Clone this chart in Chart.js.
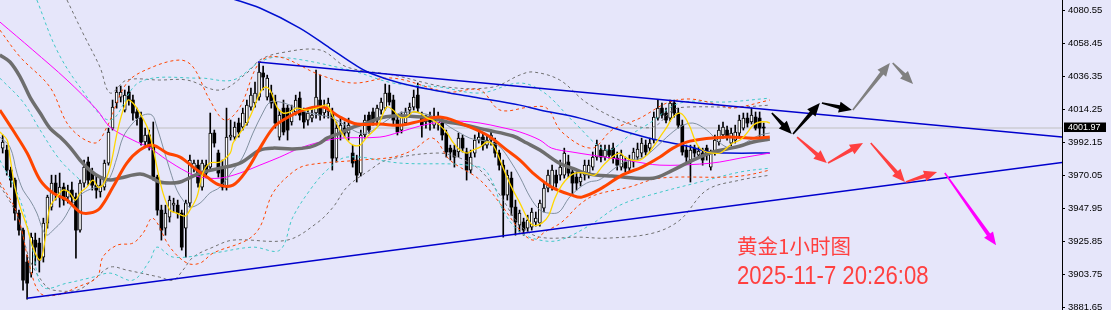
<!DOCTYPE html>
<html lang="zh">
<head>
<meta charset="UTF-8">
<title>黄金1小时图</title>
<style>
    body { margin: 0; padding: 0; background-color: #e6e6fa; }
    .wrap { width: 1111px; height: 310px; position: relative; }
</style>
</head>
<body>
<div class="wrap"><canvas id="goldChart"></canvas></div>

<script src="https://cdn.jsdelivr.net/npm/chart.js"></script>
<script>
    // candles, one per hour, index 0 = leftmost
    const opens = [3988.5,3987.2,3973.8,3967.1,3945.0,3933.6,3912.2,3904.8,3926.9,3924.9,
        3915.5,3938.3,3949.0,3965.1,3955.7,3962.4,3955.7,3960.4,3955.7,3933.6,
        3965.1,3979.2,3972.5,3963.7,3959.1,3962.4,3978.5,4001.9,4018.7,4022.7,
        4014.0,4026.1,4020.7,4012.7,4008.6,3992.6,3997.3,3990.5,3969.1,3947.0,
        3934.9,3942.3,3950.3,3950.3,3945.0,3934.9,3951.7,3975.1,3977.1,3962.4,
        3977.1,3975.8,3998.6,3985.2,3975.8,3962.4,3995.9,3995.9,4005.3,4002.6,
        4005.3,4016.0,4018.7,4022.7,4038.8,4022.7,4025.4,4019.4,3995.9,4015.3,
        4015.3,4006.0,4012.7,4022.0,4012.7,4007.3,4008.6,4012.0,4020.7,4012.0,
        4012.7,4012.0,3981.8,3998.6,4001.9,3998.6,3985.2,3980.5,3971.8,3997.3,
        4010.6,4012.7,4007.3,4014.0,4015.3,4025.4,4020.7,4007.3,4000.6,4005.3,
        4014.0,4016.0,4024.0,4009.3,4006.0,4008.6,4003.9,4005.3,4005.3,3998.6,
        3988.5,3987.2,3985.9,3995.2,3985.9,3973.8,3985.2,3993.9,3995.9,3990.5,
        3993.9,3992.6,3985.2,3977.1,3957.0,3968.4,3949.0,3936.9,3939.0,3934.9,
        3935.6,3939.0,3938.3,3948.3,3961.7,3962.4,3970.4,3970.4,3970.4,3979.2,
        3972.5,3969.1,3965.8,3970.4,3971.8,3975.8,3982.5,3987.2,3982.5,3987.2,
        3988.5,3981.8,3975.8,3979.2,3975.1,3979.2,3982.5,3985.2,3990.5,3988.5,
        3993.9,4008.6,4015.3,4012.0,4008.6,4018.7,4012.0,4003.9,3987.2,3980.5,
        3988.5,3983.8,3985.2,3988.5,3975.8,3985.2,3992.6,3997.3,4000.6,3991.9,
        3993.9,3998.6,4001.9,4008.6,4006.0,4009.3,4008.6,4002.6];
    const highs = [3997.3,3990.5,3975.8,3968.4,3947.0,3934.9,3916.8,3931.6,3931.6,3928.2,
        3941.6,3957.0,3970.4,3970.4,3971.8,3965.1,3963.7,3965.8,3958.4,3967.1,
        3980.5,3982.5,3975.1,3970.4,3968.4,3980.5,4001.9,4020.7,4029.4,4030.1,
        4027.4,4030.1,4024.0,4015.3,4012.7,4001.9,4000.6,4006.0,3970.4,3950.3,
        3950.3,3956.4,3955.0,3953.7,3947.0,3953.7,3983.8,3980.5,3980.5,3980.5,
        3980.5,4012.0,4000.6,3987.2,3980.5,4015.3,4007.3,4006.0,4008.6,4015.3,
        4020.7,4028.7,4032.8,4046.2,4043.5,4037.4,4030.7,4024.0,4014.0,4020.7,
        4017.3,4017.3,4024.0,4026.1,4015.3,4014.0,4015.3,4040.8,4037.4,4020.7,
        4022.0,4015.3,4006.0,4008.6,4006.0,4008.6,3990.5,3983.8,4000.6,4010.6,
        4012.7,4015.3,4017.3,4022.0,4031.4,4030.7,4024.0,4010.6,4012.7,4015.3,
        4018.7,4027.4,4032.1,4012.7,4010.6,4012.7,4015.3,4012.7,4008.6,4000.6,
        3990.5,3990.5,3998.6,3997.3,3988.5,3987.2,3997.3,3999.3,3998.6,3997.3,
        4000.6,3995.2,3987.2,3980.5,3973.8,3972.5,3953.7,3947.0,3941.6,3943.6,
        3948.3,3945.7,3953.7,3965.1,3973.8,3977.1,3973.8,3980.5,3988.5,3983.8,
        3975.1,3972.5,3972.5,3980.5,3980.5,3985.9,3993.9,3990.5,3990.5,3990.5,
        3991.9,3985.9,3987.2,3982.5,3983.8,3988.5,3991.9,3995.2,3993.9,3995.2,
        4012.7,4020.7,4018.7,4015.3,4020.7,4020.7,4015.3,4007.3,3990.5,3990.5,
        3990.5,3989.2,3988.5,3990.5,3987.2,3997.3,4003.9,4006.0,4003.3,4001.9,
        4003.9,4010.6,4012.0,4012.0,4015.3,4012.7,4012.7,4005.3];
    const lows = [3985.2,3970.4,3962.4,3940.3,3930.2,3893.4,3887.4,3902.1,3910.1,3905.5,
        3912.2,3934.9,3947.0,3953.7,3949.0,3950.3,3951.7,3951.7,3914.8,3932.3,
        3962.4,3963.7,3960.4,3955.0,3955.7,3960.4,3977.1,4000.6,4015.3,4019.4,
        4012.7,4017.3,4007.3,4003.9,3990.5,3989.2,3987.2,3967.1,3943.6,3926.9,
        3930.2,3939.0,3945.7,3941.6,3920.2,3915.5,3949.0,3972.5,3962.4,3960.4,
        3969.1,3973.8,3989.2,3969.1,3960.4,3960.4,3993.9,3993.9,3995.9,4000.6,
        4003.9,4014.0,4016.0,4020.7,4027.4,4020.7,4015.3,4001.9,3993.9,3997.3,
        3993.9,4003.9,4010.6,4007.3,4001.9,4003.9,4006.0,4008.6,4007.3,4008.6,
        4008.6,3973.8,3979.2,3993.9,3995.9,3993.9,3975.8,3965.8,3969.8,3995.2,
        3998.6,4003.9,4003.9,4011.3,4014.0,4017.3,4003.9,3997.3,3998.6,4003.9,
        4010.6,4014.0,4012.7,3995.9,4001.9,4000.6,4001.9,4000.6,3993.9,3982.5,
        3980.5,3975.8,3982.5,3985.9,3967.1,3971.8,3982.5,3991.9,3987.2,3988.5,
        3990.5,3982.5,3973.8,3928.9,3953.7,3943.6,3930.2,3932.3,3930.2,3932.3,
        3933.6,3936.3,3936.3,3945.7,3959.1,3960.4,3962.4,3967.1,3968.4,3969.1,
        3957.0,3960.4,3963.1,3967.1,3968.4,3973.8,3980.5,3979.2,3980.5,3981.8,
        3978.5,3973.8,3973.8,3972.5,3972.5,3975.8,3980.5,3982.5,3983.8,3985.9,
        3991.9,4007.3,4008.6,4005.3,4006.6,4009.3,4001.9,3983.8,3978.5,3965.8,
        3982.5,3981.8,3977.1,3980.5,3973.8,3983.8,3990.5,3995.2,3993.9,3989.9,
        3991.9,3996.6,4000.6,4002.6,4004.6,4000.6,3995.9,3995.9];
    const closes = [3992.6,3973.8,3967.1,3945.0,3933.6,3900.1,3898.1,3928.9,3922.2,3913.5,
        3938.3,3955.7,3965.1,3958.4,3962.4,3953.7,3960.4,3955.7,3933.6,3965.1,
        3975.8,3967.1,3963.7,3960.4,3963.7,3978.5,3999.3,4016.0,4026.1,4026.1,
        4024.0,4020.7,4012.0,4008.6,3992.6,3997.3,3989.2,3969.1,3947.0,3933.6,
        3945.0,3953.7,3951.7,3945.0,3922.2,3951.7,3980.5,3978.5,3965.1,3978.5,
        3971.8,3998.6,3991.9,3971.8,3962.4,3995.9,3997.3,4002.6,3999.3,4012.0,
        4017.3,4024.0,4025.4,4039.5,4036.1,4035.4,4018.7,4005.3,4010.6,3999.3,
        4000.6,4014.0,4020.7,4010.6,4006.0,4012.0,4010.6,4022.7,4010.6,4016.0,
        4018.7,3981.8,4001.9,4003.9,3998.6,4003.9,3978.5,3970.4,3997.3,4007.3,
        4000.6,4006.0,4015.3,4019.4,4025.4,4019.4,4007.3,3999.3,4009.3,4012.7,
        4016.0,4022.7,4015.3,4003.9,4007.3,4006.0,4007.3,4008.6,3997.3,3985.9,
        3985.9,3982.5,3995.2,3988.5,3973.8,3982.5,3993.9,3995.9,3990.5,3993.9,
        3997.3,3985.2,3977.1,3957.0,3970.4,3949.0,3939.0,3945.0,3933.6,3940.3,
        3945.7,3941.6,3951.7,3961.7,3970.4,3973.8,3965.1,3975.8,3985.2,3971.8,
        3965.1,3965.1,3969.1,3977.1,3977.1,3982.5,3990.5,3982.5,3987.2,3983.8,
        3981.8,3977.1,3983.8,3975.1,3980.5,3985.9,3987.9,3991.9,3985.9,3991.9,
        4009.3,4015.3,4010.6,4007.3,4018.7,4012.0,4003.9,3985.9,3982.5,3987.2,
        3985.2,3986.5,3980.5,3983.8,3985.9,3993.9,4000.6,4002.6,3995.9,3998.6,
        3999.3,4007.3,4008.6,4005.3,4010.6,4001.9,4001.9,4001.97];

    const lastPrice = 4001.97;
    const yTicks = [4080.55, 4058.45, 4036.35, 4014.25, 3992.15, 3970.05, 3947.95, 3925.85, 3903.75, 3881.65];

    // indicator lines, read as [candle index, price]
    const maYellow = [[-0.7,3999.3],[1.1,3993.9],[1.8,3982.5],[3.0,3962.4],[4.3,3949.0],[6.0,3935.6],[7.4,3922.2],[9.2,3913.5],[10.4,3926.9],[11.6,3949.0],
        [13.3,3955.7],[14.8,3960.4],[16.5,3958.4],[17.8,3953.7],[19.0,3958.4],[20.7,3962.4],[22.2,3967.1],[23.4,3962.4],[24.6,3963.7],[26.4,3975.8],
        [28.1,3998.6],[29.6,4014.0],[30.8,4020.7],[32.0,4018.7],[33.7,4012.0],[35.5,4002.6],[36.9,3989.2],[37.9,3975.8],[39.4,3958.4],[41.1,3947.0],
        [42.8,3945.0],[44.8,3943.0],[46.0,3947.0],[47.7,3955.7],[49.2,3971.8],[50.9,3978.5],[53.4,3979.2],[55.9,3985.2],[56.6,3991.9],[58.3,3998.6],
        [60.0,4005.3],[61.5,4014.0],[63.2,4025.4],[64.5,4029.4],[65.7,4027.4],[67.4,4016.0],[68.9,4012.0],[70.6,4012.7],[72.3,4015.3],[74.8,4014.0],
        [77.2,4015.3],[79.7,4017.3],[81.2,4009.3],[82.9,4000.6],[84.6,3993.9],[86.1,3990.5],[87.8,3990.5],[89.5,3995.9],[92.0,4002.6],[94.4,4016.0],
        [95.9,4014.0],[97.6,4009.3],[99.3,4009.3],[100.8,4012.7],[102.5,4012.0],[104.3,4008.6],[105.7,4007.3],[107.4,4003.9],[109.2,3998.6],[110.6,3992.6],
        [112.4,3987.2],[114.1,3985.2],[115.6,3987.2],[117.3,3989.2],[119.0,3992.6],[120.5,3990.5],[122.2,3980.5],[123.9,3969.1],[125.4,3960.4],[127.1,3951.7],
        [128.8,3942.3],[130.3,3936.9],[132.5,3938.3],[134.2,3943.6],[135.7,3955.0],[137.4,3963.7],[139.1,3969.1],[140.6,3971.8],[143.1,3971.8],[145.5,3970.4],
        [147.2,3975.8],[148.9,3980.5],[150.4,3983.8],[151.7,3985.2],[152.9,3982.5],[154.6,3980.5],[156.6,3980.5],[158.3,3983.8],[159.8,3989.2],[161.5,3995.9],
        [163.2,4002.6],[164.7,4009.3],[166.4,4012.0],[167.6,4009.3],[168.9,4002.6],[170.1,3993.9],[171.3,3988.5],[173.0,3985.9],[176.2,3985.2],[177.9,3988.5],
        [179.4,3991.9],[181.2,3993.9],[182.9,3998.6],[184.4,4003.9],[186.1,4006.0],[187.8,4006.0],[188.5,4005.3]];
    const maSlate = [[-0.7,3995.9],[1.8,3989.2],[3.5,3971.8],[5.0,3960.4],[6.7,3953.7],[8.4,3945.0],[9.9,3933.6],[10.9,3930.2],[12.4,3933.6],[14.8,3940.3],
        [17.3,3951.7],[19.7,3958.4],[22.2,3961.7],[24.6,3963.7],[26.4,3969.1],[28.1,3982.5],[29.6,3995.9],[32.0,4005.3],[34.5,4010.6],[36.7,4010.6],
        [37.9,4002.6],[39.4,3989.2],[41.1,3973.8],[42.8,3960.4],[44.3,3953.7],[46.0,3949.0],[48.5,3951.7],[50.9,3958.4],[53.4,3962.4],[56.6,3973.8],
        [59.0,3982.5],[61.5,3998.6],[63.9,4012.0],[65.7,4019.4],[68.1,4019.4],[70.6,4017.3],[73.0,4014.0],[75.5,4012.0],[78.0,4010.6],[80.4,4009.3],
        [82.9,4006.0],[85.3,4001.9],[87.8,3998.6],[90.2,3999.3],[92.7,4003.9],[95.2,4008.6],[97.6,4012.0],[100.1,4012.7],[102.5,4012.0],[105.0,4010.6],
        [107.4,4007.3],[109.9,4002.6],[112.4,3998.6],[114.8,3995.2],[117.3,3993.9],[119.7,3992.6],[122.2,3989.2],[124.6,3980.5],[127.1,3969.1],[129.6,3955.7],
        [132.0,3947.0],[134.2,3945.0],[136.7,3945.7],[139.1,3955.0],[141.6,3961.7],[144.1,3965.8],[146.5,3967.1],[148.9,3971.8],[151.4,3977.1],[153.9,3980.5],
        [157.1,3981.8],[159.8,3987.2],[163.2,3995.9],[166.4,4002.6],[169.6,4005.3],[173.0,4000.6],[175.5,3993.9],[177.9,3989.2],[180.4,3989.2],[183.6,3993.9],
        [186.1,3997.3],[188.5,3998.6]];
    const maOrange = [[-0.7,4014.0],[2.5,4000.6],[6.0,3985.2],[9.2,3967.1],[12.4,3958.4],[15.8,3953.7],[19.0,3945.7],[21.4,3945.0],[23.9,3948.3],[27.1,3962.4],
        [30.5,3978.5],[33.7,3987.2],[36.9,3990.5],[40.4,3985.2],[43.6,3982.5],[46.8,3975.8],[50.2,3969.1],[53.4,3963.7],[56.6,3963.7],[60.0,3973.8],
        [63.2,3988.5],[66.4,4001.9],[68.9,4007.3],[73.8,4014.0],[78.7,4016.0],[82.9,4009.3],[87.1,4004.6],[92.7,4004.6],[97.6,4003.9],[102.5,4006.6],
        [107.4,4009.3],[112.4,4005.3],[119.0,3997.3],[123.9,3987.2],[127.1,3980.5],[130.3,3971.8],[134.9,3962.4],[139.9,3957.0],[142.3,3955.7],[147.2,3961.7],
        [152.2,3970.4],[157.1,3975.8],[161.5,3982.5],[164.7,3988.5],[168.9,3993.2],[177.9,3995.9],[184.4,3995.2],[188.5,3995.9]];
    const maGrey = [[-0.7,4050.9],[1.8,4046.2],[4.3,4036.1],[6.7,4022.7],[9.2,4012.0],[11.6,4001.9],[14.1,3995.9],[16.5,3989.2],[19.0,3980.5],[21.4,3973.8],
        [23.9,3969.1],[26.4,3967.1],[28.8,3968.4],[33.7,3971.1],[36.2,3969.1],[38.6,3965.8],[41.1,3965.1],[43.6,3965.8],[48.5,3971.8],[53.4,3975.1],
        [58.3,3978.5],[63.2,3987.2],[66.4,3988.5],[71.3,3987.9],[75.5,3989.2],[78.0,3991.9],[79.7,3995.2],[82.9,3998.6],[86.1,4002.6],[89.5,4005.3],
        [92.7,4008.6],[95.9,4010.0],[99.3,4010.0],[105.7,4008.6],[109.2,4006.0],[112.4,4004.6],[119.0,4000.6],[125.4,3996.6],[128.8,3991.9],[132.0,3987.2],
        [136.7,3978.5],[139.9,3975.1],[144.1,3971.1],[149.7,3969.8],[159.8,3968.4],[164.7,3973.8],[168.1,3978.5],[171.3,3982.5],[174.5,3985.9],[177.9,3987.9],
        [181.2,3989.9],[184.4,3992.6],[188.5,3994.6]];
    const maPink = [[-0.7,4073.0],[7.4,4054.2],[15.8,4034.1],[23.2,4014.0],[26.4,4002.6],[32.0,3993.9],[36.2,3988.5],[40.4,3980.5],[45.3,3972.5],[48.5,3969.1],
        [53.4,3968.4],[58.3,3971.8],[63.2,3977.1],[68.1,3982.5],[73.0,3988.5],[78.0,3992.6],[82.9,3995.2],[92.7,3995.9],[97.6,3999.3],[102.5,4003.3],
        [107.4,4006.0],[112.4,4006.6],[117.3,4005.3],[122.2,4002.6],[127.1,3999.3],[132.0,3993.9],[134.9,3988.5],[139.9,3985.9],[144.8,3983.8],[149.7,3981.8],
        [154.6,3979.8],[161.5,3977.1],[171.3,3977.8],[176.2,3979.2],[181.2,3981.8],[188.5,3985.2]];
    const maBlue = [[55.9,4089.0],[63.2,4082.3],[73.0,4068.9],[80.4,4055.5],[86.6,4044.2],[90.2,4038.8],[97.6,4032.1],[105.7,4027.4],[115.6,4022.7],[127.1,4017.3],
        [132.0,4014.0],[141.8,4008.6],[151.7,4000.6],[160.8,3993.9],[168.1,3989.9],[173.8,3985.9],[177.9,3985.2],[188.5,3985.2]];

    // band lines (dotted)
    const bandOrangeUp = [[-0.7,4067.6],[4.3,4049.5],[11.6,4029.4],[16.5,4002.6],[22.7,3991.9],[25.6,4002.6],[30.5,4032.1],[36.2,4042.1],[43.6,4047.5],[46.8,4042.8],
        [50.9,4020.7],[54.6,4007.3],[58.3,4016.0],[63.2,4046.2],[68.1,4049.5],[78.0,4037.5],[86.1,4032.1],[95.9,4035.4],[109.2,4026.1],[117.3,4027.4],
        [122.2,4014.0],[129.6,4016.0],[133.7,4015.3],[137.4,3999.3],[144.8,3988.5],[149.7,4000.6],[156.6,4008.6],[163.2,4018.7],[168.9,4021.4],[176.2,4017.3],
        [179.4,4015.3],[188.5,4020.7]];
    const bandOrangeLo = [[-0.7,3965.8],[3.5,3945.0],[6.7,3908.8],[9.2,3891.4],[13.3,3890.1],[18.3,3895.4],[23.2,3902.1],[24.6,3915.5],[28.1,3923.5],[32.0,3924.9],
        [34.5,3931.6],[36.9,3941.6],[41.1,3922.2],[45.3,3911.5],[48.5,3911.5],[51.7,3918.2],[60.0,3926.9],[63.2,3935.6],[66.4,3958.4],[71.3,3972.5],
        [74.8,3977.1],[87.8,3980.5],[95.9,3982.5],[100.8,3987.2],[105.7,3995.2],[109.9,3980.5],[117.3,3967.1],[122.9,3949.0],[127.1,3933.6],[130.3,3926.9],
        [133.2,3932.3],[137.4,3939.0],[141.6,3950.3],[145.5,3957.0],[153.9,3962.4],[161.5,3968.4],[177.9,3969.1],[182.9,3970.4],[188.5,3973.8]];
    const bandCyanUp = [[8.4,4087.7],[13.3,4054.2],[19.0,4029.4],[26.4,4007.3],[33.7,4032.8],[48.5,4035.4],[56.6,4034.1],[63.2,4046.2],[68.1,4049.5],[85.3,4040.8],
        [95.9,4032.1],[107.4,4029.4],[117.3,4025.4],[127.1,4032.1],[133.2,4025.4],[140.6,4005.3],[148.5,3987.2],[154.1,3997.2],[159.0,4005.3],[166.4,4018.7],
        [177.9,4019.4],[188.5,4022.0]];
    const bandCyanLo = [[-0.7,3980.5],[4.3,3953.7],[7.4,3920.2],[9.9,3895.4],[15.8,3898.1],[22.2,3902.1],[26.4,3904.8],[32.0,3900.1],[36.2,3913.5],[37.9,3922.2],
        [41.9,3915.5],[51.7,3918.2],[61.5,3922.2],[68.1,3920.2],[71.3,3942.3],[75.5,3960.4],[79.7,3973.8],[84.6,3982.5],[97.6,3978.5],[117.3,3975.8],
        [120.5,3965.1],[122.9,3947.0],[127.1,3932.3],[132.0,3926.9],[136.9,3926.9],[144.3,3936.9],[151.7,3950.3],[159.0,3957.0],[171.3,3965.8],[181.2,3972.5],
        [188.5,3975.1]];
    const bandCyanMid = [[-0.7,4035.4],[5.0,4019.4],[9.2,4000.6],[14.1,3980.5],[19.0,3967.1]];
    const bandGreyUp = [[15.8,4087.7],[19.7,4065.6],[23.9,4042.8],[26.4,4025.4],[30.5,4034.1],[38.6,4034.1],[45.3,4034.1],[53.4,4027.4],[60.0,4038.8],[63.2,4047.5],
        [68.1,4052.2],[78.0,4054.2],[84.6,4042.8],[95.9,4037.5],[109.2,4029.4],[120.5,4029.4],[127.1,4037.5],[130.3,4039.5],[136.9,4034.1],[143.6,4018.7],
        [153.4,4005.3],[159.8,4002.6],[164.7,4014.0],[168.1,4016.0],[181.2,4016.0],[188.5,4017.3]];
    const bandGreyLo = [[-0.7,3963.7],[3.5,3943.6],[6.7,3913.5],[10.4,3896.7],[12.4,3893.4],[18.3,3893.4],[22.2,3900.1],[26.4,3908.8],[30.5,3906.8],[38.6,3902.1],
        [41.9,3900.1],[44.3,3906.8],[46.8,3915.5],[51.7,3922.2],[56.6,3926.9],[69.9,3926.9],[77.2,3938.3],[81.2,3949.0],[84.6,3962.4],[90.2,3973.8],
        [94.4,3980.5],[106.7,3985.2],[112.4,3981.8],[117.3,3973.8],[122.2,3957.0],[127.1,3936.9],[132.0,3928.9],[141.8,3928.9],[148.5,3928.2],[159.8,3931.6],
        [166.4,3940.3],[173.0,3960.4],[181.2,3967.1],[188.5,3970.4]];

    // drawn trend lines
    const trendUpper = [[62.7,4046.2],[260.3,3995.9]];
    const trendLower = [[6.0,3888.0],[260.3,3978.8]];
    const priceLine = [[-1,lastPrice],[261,lastPrice]];

    // forecast arrows: from, to, colour
    const arrows = [
        {from:[189.0,4012.0], to:[193.9,3997.9], color:'#000000'},
        {from:[194.2,3997.9], to:[200.8,4018.7], color:'#000000'},
        {from:[201.3,4018.7], to:[208.7,4014.0], color:'#000000'},
        {from:[208.9,4014.0], to:[218.0,4045.5], color:'#808080'},
        {from:[218.7,4045.5], to:[223.7,4031.4], color:'#808080'},
        {from:[195.2,3995.9], to:[202.5,3978.5], color:'#ff4040'},
        {from:[202.8,3978.5], to:[211.4,3991.9], color:'#ff4040'},
        {from:[213.3,3991.9], to:[221.7,3965.8], color:'#ff4040'},
        {from:[221.9,3965.8], to:[229.6,3972.5], color:'#ff4040'},
        {from:[231.5,3971.8], to:[244.1,3923.5], color:'#ff00ff'}
    ];

    const titleText = '黄金1小时图';
    const stampText = '2025-11-7 20:26:08';

    function line(points, color, width, dash, order, tension) {
        return {
            type: 'line',
            data: points.map(p => ({x: p[0], y: p[1]})),
            borderColor: color,
            borderWidth: width,
            borderDash: dash || [],
            pointRadius: 0,
            fill: false,
            tension: tension === undefined ? 0.35 : tension,
            order: order
        };
    }

    const wicks = highs.map((h, i) => ({x: i, y: [lows[i], h]}));
    const upBodies = [], downBodies = [];
    opens.forEach((o, i) => {
        const c = closes[i];
        if (c >= o) upBodies.push({x: i, y: [o, c]});
        else downBodies.push({x: i, y: [c, o]});
    });

    function drawArrow(ctx, x1, y1, x2, y2, color) {
        const dx = x2 - x1, dy = y2 - y1;
        const len = Math.hypot(dx, dy);
        const ux = dx / len, uy = dy / len, nx = -uy, ny = ux;
        const head = 13, hw = 5.5;
        const bx = x2 - ux * head, by = y2 - uy * head;
        ctx.fillStyle = color;
        ctx.beginPath();
        ctx.moveTo(x1 + nx * 0.8, y1 + ny * 0.8);
        ctx.lineTo(bx + nx * 2, by + ny * 2);
        ctx.lineTo(bx + nx * hw, by + ny * hw);
        ctx.lineTo(x2, y2);
        ctx.lineTo(bx - nx * hw, by - ny * hw);
        ctx.lineTo(bx - nx * 2, by - ny * 2);
        ctx.lineTo(x1 - nx * 0.8, y1 - ny * 0.8);
        ctx.closePath();
        ctx.fill();
    }

    const overlay = {
        id: 'overlay',
        afterDraw(chart) {
            const ctx = chart.ctx;
            const xs = chart.scales.x, ys = chart.scales.y;
            ctx.save();
            arrows.forEach(a => drawArrow(ctx,
                xs.getPixelForValue(a.from[0]), ys.getPixelForValue(a.from[1]),
                xs.getPixelForValue(a.to[0]), ys.getPixelForValue(a.to[1]), a.color));

            // last price tag on the axis
            const py = ys.getPixelForValue(lastPrice);
            const left = chart.chartArea.right + 2;
            ctx.fillStyle = '#000';
            ctx.fillRect(left, py - 5.5, 42, 9.5);
            ctx.fillStyle = '#fff';
            ctx.font = '9px "Liberation Sans", Arial, sans-serif';
            ctx.textBaseline = 'middle';
            ctx.textAlign = 'left';
            ctx.fillText(lastPrice.toFixed(2), left + 4, py - 0.5);

            // caption
            ctx.fillStyle = '#ff4040';
            ctx.textBaseline = 'alphabetic';
            ctx.font = '20.5px "Noto Sans CJK SC", sans-serif';
            ctx.fillText(titleText, 737, 254);
            ctx.translate(737, 284);
            ctx.scale(0.885, 1);
            ctx.font = '25px "Liberation Sans", Arial, sans-serif';
            ctx.fillText(stampText, 0, 0);
            ctx.restore();
        }
    };

    new Chart(document.getElementById('goldChart'), {
        type: 'bar',
        data: {
            datasets: [
                line(priceLine, '#c0c0c0', 1, [], 30, 0),
                {data: wicks, backgroundColor: '#000', barThickness: 1, grouped: false, order: 25},
                {data: downBodies, backgroundColor: '#000', barThickness: 3, grouped: false, order: 24},
                {data: upBodies, backgroundColor: '#fff', borderColor: '#000', borderWidth: 1,
                    borderSkipped: false, barThickness: 3, grouped: false, order: 24},
                line(bandOrangeUp, '#ff4500', 1, [3, 3], 12),
                line(bandOrangeLo, '#ff4500', 1, [3, 3], 12),
                line(bandCyanUp, '#40c8c8', 1, [3, 3], 13),
                line(bandCyanLo, '#40c8c8', 1, [3, 3], 13),
                line(bandCyanMid, '#40c8c8', 1, [3, 3], 13),
                line(bandGreyUp, '#707070', 1, [3, 3], 14),
                line(bandGreyLo, '#707070', 1, [3, 3], 14),
                line(maBlue, '#0010d0', 1.5, [], 8),
                line(maPink, '#ff00ff', 1, [], 7),
                line(maSlate, '#8090a0', 1, [], 6),
                line(maGrey, '#6e6e6e', 3.5, [], 5),
                line(maOrange, '#ff4500', 3, [], 4),
                line(maYellow, '#ffd700', 1.3, [], 3),
                line(trendUpper, '#0000cd', 1.5, [], 2, 0),
                line(trendLower, '#0000cd', 1.5, [], 2, 0)
            ]
        },
        options: {
            responsive: true,
            maintainAspectRatio: false,
            animation: false,
            layout: {padding: 0},
            plugins: {legend: {display: false}, tooltip: {enabled: false}},
            scales: {
                x: {type: 'linear', display: false, offset: false, min: -0.66, max: 260.3},
                y: {
                    position: 'right',
                    min: 3880.1,
                    max: 4087.7,
                    afterBuildTicks: axis => { axis.ticks = yTicks.map(v => ({value: v})); },
                    afterFit: axis => { axis.width = 49; axis.paddingTop = 0; axis.paddingBottom = 0; },
                    border: {display: true, color: '#000', width: 1},
                    grid: {drawOnChartArea: false, drawTicks: true, tickLength: 3, color: '#000'},
                    ticks: {
                        color: '#000',
                        padding: 3,
                        autoSkip: false,
                        font: {family: '"Liberation Sans", Arial, sans-serif', size: 9.5},
                        callback: v => Number(v).toFixed(2)
                    }
                }
            }
        },
        plugins: [overlay]
    });
</script>
</body>
</html>
